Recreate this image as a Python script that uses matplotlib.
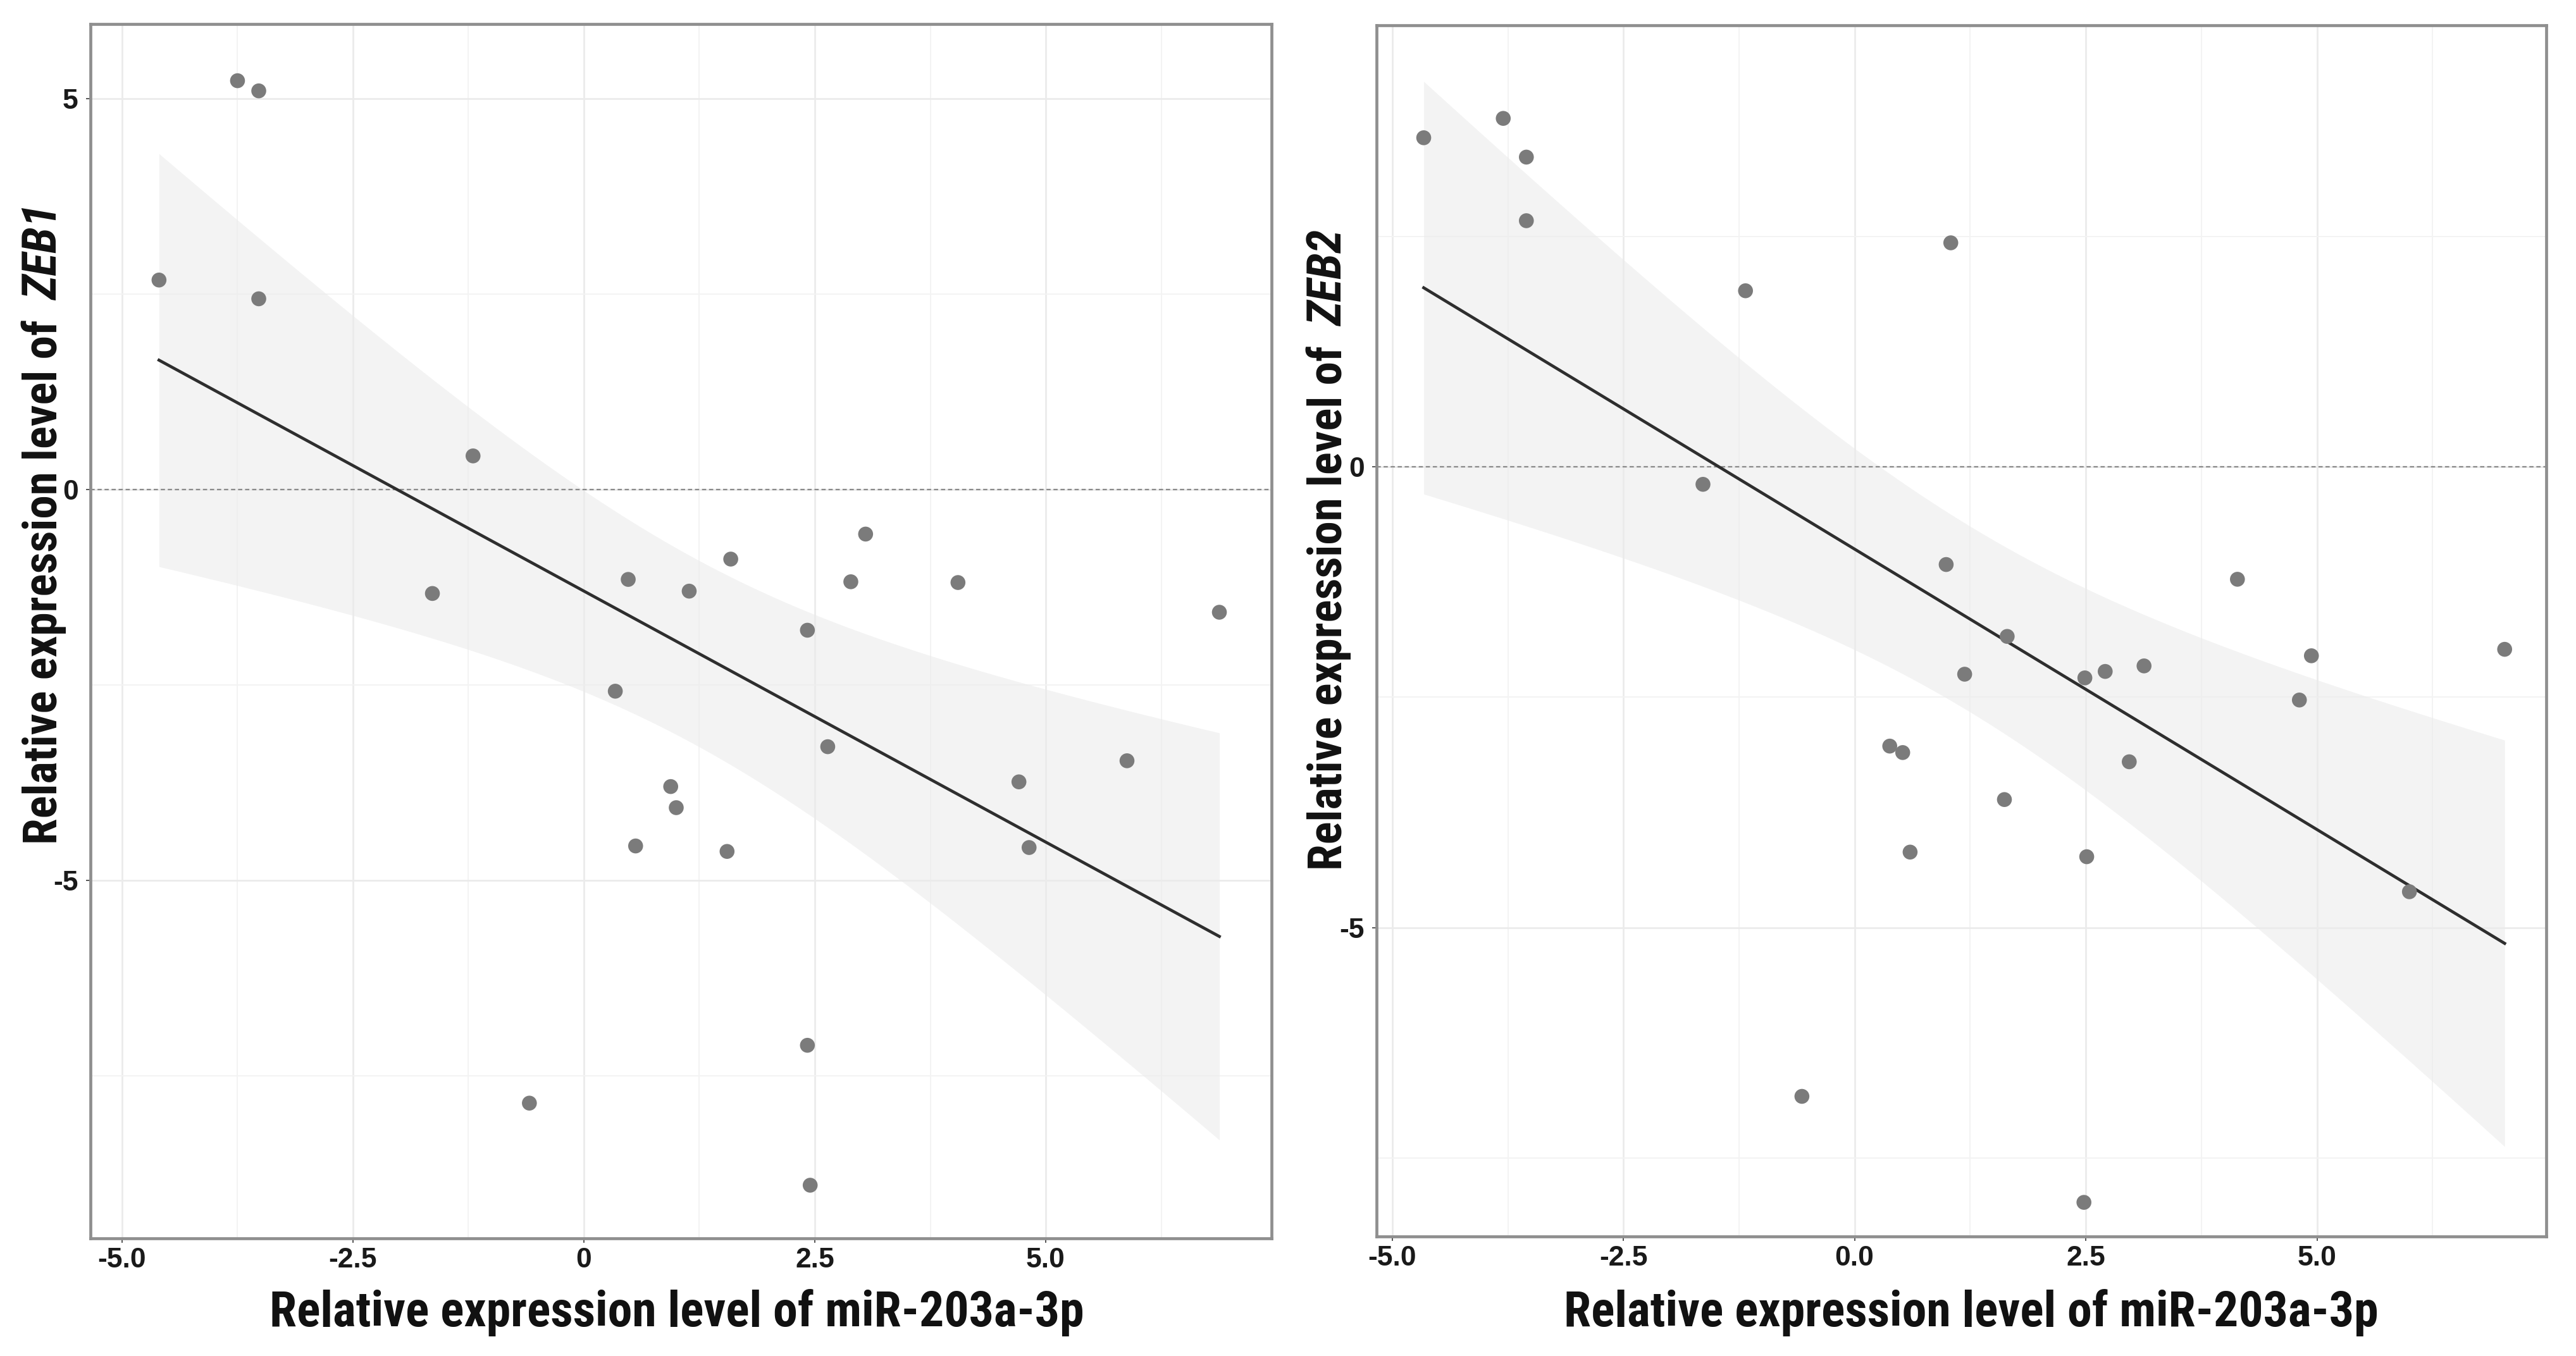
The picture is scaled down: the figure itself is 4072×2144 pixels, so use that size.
import numpy as np
import matplotlib.pyplot as plt
from matplotlib import font_manager

# ---------------- Data ----------------

x_zeb1 = [-3.75, -3.52, -4.60, -3.52, -1.20, -1.64, 0.48, 1.14, 1.59, 3.05, 2.89, 4.05, 6.88,
          2.42, 0.34, 2.64, 5.88, 4.71, 0.94, 1.00, 0.56, 1.55, 4.82, 2.42, -0.59, 2.45]
y_zeb1 = [5.23, 5.10, 2.68, 2.44, 0.43, -1.33, -1.15, -1.30, -0.89, -0.57, -1.18, -1.19, -1.57,
          -1.80, -2.58, -3.29, -3.47, -3.74, -3.80, -4.07, -4.56, -4.63, -4.58, -7.11, -7.85, -8.90]

x_zeb2 = [-4.66, -3.80, -3.55, -3.55, 1.04, -1.18, -1.64, 0.99, 4.14, 1.65, 7.03, 4.94, 3.13,
          2.71, 2.49, 1.19, 4.81, 0.38, 0.52, 2.97, 1.62, 0.60, 2.51, 6.00, -0.57, 2.48]
y_zeb2 = [3.57, 3.78, 3.36, 2.67, 2.43, 1.91, -0.19, -1.06, -1.22, -1.84, -1.98, -2.05, -2.16,
          -2.22, -2.29, -2.25, -2.53, -3.03, -3.10, -3.20, -3.61, -4.18, -4.23, -4.61, -6.83, -7.98]

x_ticks = [-5.0, -2.5, 0.0, 2.5, 5.0]
x_labels_zeb1 = ["-5.0", "-2.5", "0", "2.5", "5.0"]
x_labels_zeb2 = ["-5.0", "-2.5", "0.0", "2.5", "5.0"]
y_ticks_zeb1 = [5, 0, -5]
y_ticks_zeb2 = [0, -5]

x_title = "Relative expression level of miR-203a-3p"
y_title = "Relative expression level of"
genes = ["ZEB1", "ZEB2"]

T_975 = 2.064  # t quantile, df = n - 2 = 24

# ---------------- Fonts ----------------


def pick_font(names):
    for n in names:
        try:
            font_manager.findfont(n, fallback_to_default=False)
            return n
        except ValueError:
            pass
    return "DejaVu Sans"


narrow = pick_font(["Liberation Sans Narrow", "Roboto Condensed", "Liberation Sans"])
regular = pick_font(["Liberation Sans", "DejaVu Sans"])

W, H = 4072, 2144
DPI = 200
fig = plt.figure(figsize=(W / DPI, H / DPI), dpi=DPI)
fig.patch.set_facecolor("white")


def add_px_axes(l, r, t, b):
    return fig.add_axes([l / W, 1 - b / H, (r - l) / W, (b - t) / H])


def draw_panel(ax, x, y, xlim, ylim, xlabels, yticks):
    x = np.asarray(x)
    y = np.asarray(y)

    # linear fit + 95% confidence band (like geom_smooth(method="lm"))
    n = len(x)
    slope, intercept = np.polyfit(x, y, 1)
    resid = y - (slope * x + intercept)
    s = np.sqrt(np.sum(resid ** 2) / (n - 2))
    sxx = np.sum((x - x.mean()) ** 2)
    xs = np.linspace(x.min(), x.max(), 200)
    fit = slope * xs + intercept
    se = s * np.sqrt(1 / n + (xs - x.mean()) ** 2 / sxx)

    ax.fill_between(xs, fit - T_975 * se, fit + T_975 * se,
                    color="#ebebeb", alpha=0.6, linewidth=0, zorder=1)
    ax.axhline(0, color="#8a8a8a", linewidth=0.8, linestyle=(0, (3, 2)), zorder=2)
    ax.plot(xs, fit, color="#2e2e2e", linewidth=1.7, zorder=3)
    ax.scatter(x, y, s=72, color="#7b7b7b", edgecolors="none", zorder=4)

    ax.set_xlim(*xlim)
    ax.set_ylim(*ylim)

    ax.set_xticks(x_ticks)
    ax.set_xticklabels(xlabels)
    ax.set_yticks(yticks)
    ax.set_yticklabels([str(v) for v in yticks])
    ax.set_xticks([-3.75, -1.25, 1.25, 3.75, 6.25], minor=True)
    ax.set_yticks([2.5, -2.5, -7.5], minor=True)

    ax.grid(which="major", color="#ebebeb", linewidth=1.0, zorder=0)
    ax.grid(which="minor", color="#f3f3f3", linewidth=0.7, zorder=0)
    ax.set_axisbelow(True)

    ax.tick_params(which="major", length=2.5, width=0.7, color="#555555")
    ax.tick_params(which="minor", length=0)
    ax.tick_params(axis="x", pad=2.5)
    ax.tick_params(axis="y", pad=4.5)
    for lab in ax.get_xticklabels() + ax.get_yticklabels():
        lab.set_fontfamily(regular)
        lab.set_fontweight("bold")
        lab.set_fontsize(16)
        lab.set_color("#1a1a1a")

    for sp in ax.spines.values():
        sp.set_color("#8f8f8f")
        sp.set_linewidth(1.7)


ax1 = add_px_axes(143, 2010, 38, 1958)
draw_panel(ax1, x_zeb1, y_zeb1, (-5.342, 7.445), (-9.58, 5.955), x_labels_zeb1, y_ticks_zeb1)

ax2 = add_px_axes(2176, 4025, 40, 1955)
draw_panel(ax2, x_zeb2, y_zeb2, (-5.17, 7.48), (-8.35, 4.79), x_labels_zeb2, y_ticks_zeb2)

# ---------------- Axis titles ----------------

x_title_size = 28
y_title_size = 27

for cx in (1070, 3116):
    fig.text(cx / W, 1 - 2097 / H, x_title, ha="center", va="baseline",
             fontsize=x_title_size, fontweight="bold", family=narrow, color="#111111")

renderer = fig.canvas.get_renderer()
for base_x, start_y, gene in ((90, 1335, genes[0]), (2121, 1376, genes[1])):
    t1 = fig.text(base_x / W, 1 - start_y / H, y_title, rotation=90,
                  rotation_mode="anchor", ha="left", va="baseline",
                  fontsize=y_title_size, fontweight="bold", family=narrow, color="#111111")
    ext = t1.get_window_extent(renderer)
    fig.text(base_x / W, (ext.y1 + 30) / H, gene, rotation=90,
             rotation_mode="anchor", ha="left", va="baseline",
             fontsize=y_title_size, fontweight="bold", fontstyle="italic",
             family=narrow, color="#111111")

fig.savefig("out.png", dpi=DPI, facecolor="white")
